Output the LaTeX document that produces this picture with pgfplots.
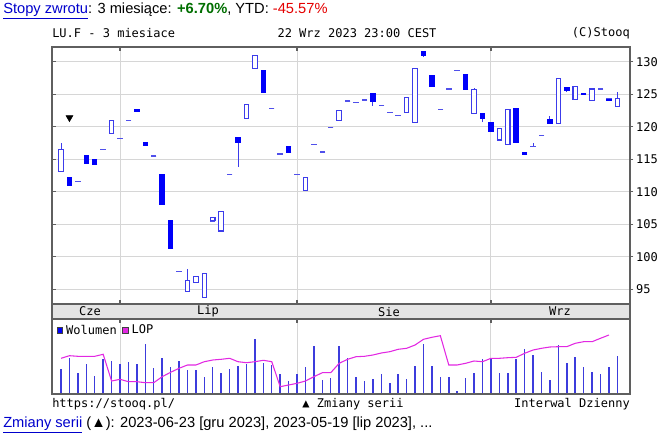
\documentclass[border=0pt]{standalone}
\usepackage{pgfplots}
\pgfplotsset{compat=1.18}
\usepackage{pgfplotstable}
\usepackage{fontspec}
\setmainfont{Liberation Sans}
\newfontfamily\mono{DejaVu Sans Mono}
\definecolor{cblue}{RGB}{0,0,250}
\definecolor{hblue}{RGB}{60,60,235}
\definecolor{dblue}{RGB}{80,80,235}
\definecolor{vblue}{RGB}{60,60,220}
\definecolor{lopc}{RGB}{226,40,226}
\definecolor{gridc}{RGB}{214,214,214}
\definecolor{framec}{RGB}{95,95,95}
\definecolor{linkc}{RGB}{0,0,204}
\definecolor{upc}{RGB}{0,110,0}
\definecolor{downc}{RGB}{228,0,0}
\definecolor{stripc}{RGB}{228,228,228}

\pgfplotstableread{
k o h l c
0 113.1 117.5 113.1 116.5
1 112.2 112.2 110.9 110.9
2 111.6 111.6 111.6 111.6
3 115.5 115.5 114.4 114.4
4 115.0 115.0 114.2 114.2
5 116.5 116.5 116.5 116.5
6 119.0 121.0 119.0 121.0
7 118.15 118.15 118.15 118.15
8 120.9 120.9 120.9 120.9
9 122.7 122.7 122.3 122.3
10 117.6 117.6 117.1 117.1
11 115.5 115.5 115.5 115.5
12 112.6 112.6 108.1 108.1
13 105.5 105.5 101.3 101.3
14 97.75 97.75 97.75 97.75
15 94.6 98.1 94.6 96.4
16 96.0 97.0 96.0 97.0
17 93.75 97.45 93.75 97.45
18 105.5 106.0 105.5 106.0
19 103.95 107.0 103.95 107.0
20 112.6 112.6 112.6 112.6
21 118.3 118.3 113.85 117.6
22 121.2 123.45 121.2 123.45
23 129.0 130.9 129.0 130.9
24 128.7 128.7 125.2 125.2
25 122.8 122.8 122.8 122.8
26 115.8 115.8 115.8 115.8
27 116.9 116.9 116.05 116.05
28 112.6 112.6 112.6 112.6
29 110.2 112.2 110.2 112.2
30 117.3 117.3 117.3 117.3
31 116.1 116.1 116.1 116.1
32 119.85 119.85 119.85 119.85
33 121.0 122.45 121.0 122.45
34 123.95 123.95 123.95 123.95
35 123.7 123.7 123.7 123.7
36 124.1 124.1 124.1 124.1
37 125.1 125.1 123.2 123.85
38 123.3 123.3 123.3 123.3
39 122.15 122.15 122.15 122.15
40 121.75 121.75 121.75 121.75
41 122.2 124.5 122.2 124.5
42 120.7 129.0 120.7 129.0
43 131.55 131.55 130.7 131.0
44 127.9 127.9 126.15 126.15
45 122.6 122.6 122.6 122.6
46 125.8 125.8 125.8 125.8
47 128.7 128.7 128.7 128.7
48 128.05 128.05 125.75 125.75
49 122.06 125.9 122.06 125.65
50 122.06 122.06 120.7 121.2
51 120.6 120.6 119.3 119.3
52 117.95 119.75 117.95 119.75
53 117.3 122.6 117.3 122.6
54 122.85 122.85 117.6 117.6
55 116.05 116.05 115.75 115.75
56 117.0 117.5 117.0 117.0
57 118.7 118.7 118.7 118.7
58 121.15 121.6 120.5 120.5
59 120.5 127.35 120.5 127.35
60 126.0 126.0 125.4 125.55
61 124.2 126.15 124.2 126.15
62 125.15 125.15 124.9 124.9
63 124.05 125.8 124.05 125.8
64 125.8 125.8 125.8 125.8
65 124.25 124.25 124.0 124.0
66 123.1 125.4 123.1 124.4
}\candles

\pgfplotstableread{
k v lop
0 24.3 35
1 35.7 37.6
2 20.3 37
3 29.7 37
4 17.7 37
5 34.3 39
6 32.3 12.3
7 29 14
8 31 11.6
9 29 11.6
10 49.3 10.6
11 25.7 10.6
12 35 16.6
13 26.7 21
14 32.3 25
15 23.3 28.3
16 23.3 28.3
17 16.7 31.6
18 26.7 33.3
19 20.3 34
20 24.3 35
21 27.3 31.6
22 29.3 30.6
23 54.3 31.6
24 30.7 33
25 28.3 31.6
26 19 6.6
27 12.3 8.3
28 19 10
29 26.7 12.3
30 47.7 16.6
31 13.3 20.6
32 15 20.6
33 47.7 30
34 35 34
35 16.7 36.6
36 12.3 37
37 14.3 38.3
38 19 40.3
39 10.7 41.6
40 19 44
41 14.3 45
42 27.7 48.3
43 49.3 54
44 27.7 56
45 16.7 57.6
46 16.7 28.3
47 2.3 28.3
48 15.7 30
49 20 32.3
50 34.3 31.6
51 35.7 35
52 20 35
53 20 35.6
54 34.3 36
55 44 40
56 38.3 43.3
57 21 45
58 13.3 46.3
59 48.3 46.6
60 30.7 46.6
61 36 50
62 26 51.6
63 21 51.6
64 19 55
65 26 58.3
66 37.3 nan
}\volume

\tikzset{monof/.style={font=\mono\fontsize{9}{10}\selectfont}}
\pgfplotsset{
  chartx/.style={scale only axis, width=433.5pt, xmin=-1.07, xmax=67.5,
    anchor=north west, axis line style={draw=framec, line width=1pt}},
}

\begin{document}
\begin{tikzpicture}
\useasboundingbox (0,0) rectangle (499.5pt,-328.5pt);

% top line
\node[anchor=west, inner sep=0, font=\fontsize{11}{13}\selectfont] at (2.25pt,-8.3pt)
  {\textcolor{linkc}{\underline{Stopy zwrotu}}: 3 miesiące: \textcolor{upc}{\textbf{+6.70\%}}, YTD: \textcolor{downc}{-45.57\%}};
% header
\node[anchor=west, inner sep=0, monof] at (39pt,-24.75pt) {LU.F - 3 miesiace};
\node[inner sep=0, monof] at (267.75pt,-24.75pt) {22 Wrz 2023 23:00 CEST};
\node[anchor=east, inner sep=0, monof] at (472.5pt,-24.75pt) {(C)Stooq};

% month strip
\fill[stripc] (39pt,-228pt) rectangle (472.5pt,-239.25pt);
\draw[framec, line width=1pt] (39pt,-228pt) rectangle (472.5pt,-239.25pt);
\node[inner sep=0, monof] at (67.5pt,-233.7pt) {Cze};
\node[inner sep=0, monof] at (156pt,-233.7pt) {Lip};
\node[inner sep=0, monof] at (291.75pt,-233.7pt) {Sie};
\node[inner sep=0, monof] at (420pt,-233.7pt) {Wrz};

% price panel: grid, wicks, dashes, marker
\begin{axis}[chartx, at={(39pt,-35.25pt)}, height=192.75pt,
  ymin=92.72, ymax=132.26,
  xtick={7,28,51}, xticklabels={}, xtick pos=both,
  tick align=inside, major tick length=3pt,
  tick style={framec, line width=0.9pt},
  ytick={95,100,...,130}, yticklabels={}, ytick pos=left,
  grid=major, grid style={gridc, line width=0.75pt}]
\addplot[draw=none, mark=none, forget plot,
  error bars/.cd, y dir=plus, y explicit, error mark=none,
  error bar style={hblue, line width=0.75pt}]
  table[x=k, y=l, y error expr={\thisrow{h}-\thisrow{l}}] {\candles};
\addplot[only marks, mark=-, mark size=2.05pt, dblue,
  mark options={line width=0.85pt}] table[x=k, y=o] {\candles};
\addplot[only marks, mark=-, mark size=2.05pt, dblue,
  mark options={line width=0.85pt}] table[x=k, y=c] {\candles};
\addplot[only marks, mark=triangle*, mark size=3pt,
  mark options={rotate=180, fill=black, draw=black}] coordinates {(1,121.4)};
\end{axis}

% price panel: bodies and price scale
\begin{axis}[chartx, at={(39pt,-35.25pt)}, height=192.75pt,
  ymin=92.72, ymax=132.26,
  ybar stacked, bar width=3.35pt,
  xtick=\empty,
  ytick={95,100,...,130}, ytick pos=right, yticklabel pos=right,
  tick align=outside, major tick length=2.5pt,
  tick style={framec, line width=0.9pt},
  /pgf/number format/assume math mode=true,
  yticklabel style={monof, anchor=west, xshift=-1.5pt}]
\addplot[draw=none, fill=none] table[x=k, y expr={min(\thisrow{o},\thisrow{c})}] {\candles};
\addplot[draw=hblue, fill=white, line width=0.8pt] table[x=k, y expr={max(\thisrow{c}-\thisrow{o},0)}] {\candles};
\addplot[draw=cblue, fill=cblue, line width=0.75pt] table[x=k, y expr={max(\thisrow{o}-\thisrow{c},0)}] {\candles};
\end{axis}

% volume panel
\begin{axis}[chartx, at={(39pt,-239.25pt)}, height=56.25pt,
  ymin=-0.7, ymax=74.3,
  xtick={7,28,51}, xticklabels={}, xtick pos=right,
  tick align=inside, major tick length=3pt,
  tick style={framec, line width=0.9pt},
  xmajorgrids, grid style={gridc, line width=0.75pt},
  ytick=\empty,
  legend style={at={(0.008,0.94)}, anchor=north west, draw=none, fill=none,
    legend columns=2, monof, inner sep=0pt, outer sep=0pt,
    /tikz/every odd column/.append style={column sep=1.5pt},
    /tikz/every even column/.append style={column sep=3pt},
    nodes={inner sep=1pt}},
  legend cell align=left]
\addlegendimage{legend image code/.code={\filldraw[draw=black!75, fill=cblue, line width=0.5pt] (0pt,-2.3pt) rectangle (4.2pt,2.3pt);}}
\addlegendentry{Wolumen}
\addlegendimage{legend image code/.code={\filldraw[draw=black!75, fill=lopc, line width=0.5pt] (0pt,-2.3pt) rectangle (4.2pt,2.3pt);}}
\addlegendentry{LOP}
\addplot[ycomb, vblue, line width=1.1pt, mark=none, forget plot] table[x=k, y=v] {\volume};
\addplot[lopc, line width=0.8pt, mark=none, forget plot] table[x=k, y=lop] {\volume};
\end{axis}

% footer
\node[anchor=west, inner sep=0, monof] at (39pt,-303pt) {https://stooq.pl/};
\node[inner sep=0, monof] at (264.75pt,-303pt) {▲ Zmiany serii};
\node[anchor=east, inner sep=0, monof] at (472.5pt,-303pt) {Interwal Dzienny};
\node[anchor=west, inner sep=0, font=\fontsize{11}{13}\selectfont] at (2.25pt,-319pt)
  {\textcolor{linkc}{\underline{Zmiany serii}} (▲): 2023-06-23 [gru 2023], 2023-05-19 [lip 2023], ...};
\end{tikzpicture}
\end{document}
